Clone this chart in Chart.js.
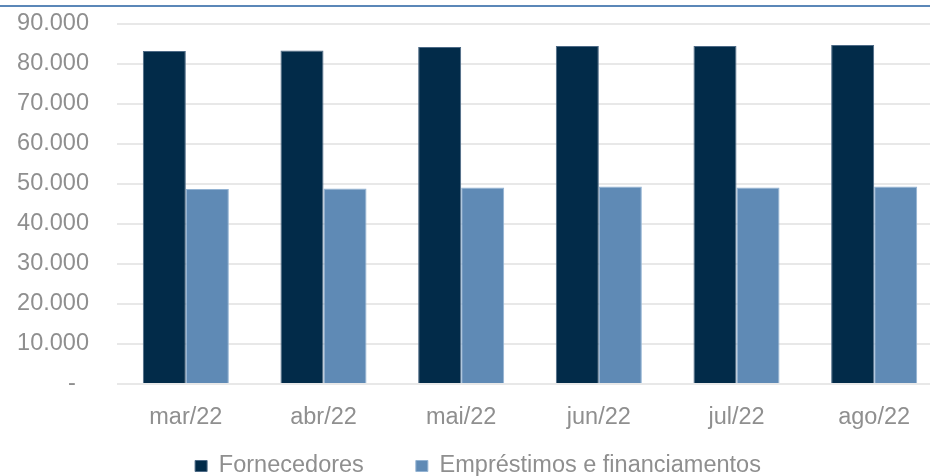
<!DOCTYPE html>
<html lang="pt-BR">
<head>
<meta charset="utf-8">
<title>Fornecedores x Empréstimos</title>
<script src="https://cdn.jsdelivr.net/npm/chart.js@4.4.1/dist/chart.umd.min.js"></script>
<style>
    html, body { margin: 0; padding: 0; background: #fff; overflow: hidden; }
    .top-rule { position: absolute; left: 0; top: 5px; width: 100%; height: 2px; background: #5B87B8; z-index: 2; }
    .chart-box { position: absolute; left: 0; top: 0; width: 943px; height: 476px; }
</style>
</head>
<body>
<div class="top-rule"></div>
<div class="chart-box"><canvas id="chartPassivo"></canvas></div>

<script>
// ── Dados ────────────────────────────────────────────────
var meses = ['mar/22', 'abr/22', 'mai/22', 'jun/22', 'jul/22', 'ago/22'];
var fornecedores = [83250, 83400, 84250, 84500, 84500, 84750];
var emprestimos = [48750, 48850, 49150, 49350, 49100, 49350];
var nomesSeries = ['Fornecedores', 'Empréstimos e financiamentos'];
var eixoY = { min: 0, max: 90000, passo: 10000 };

(function () {
    'use strict';

    var COLORS = {
        navy: '#022B49',
        navyEdge: '#4D6A86',
        steel: '#5F8AB5',
        steelEdge: '#93B3D3',
        text: '#8F8F8F',
        grid: '#E8E8E8'
    };

    var FONT = "'Liberation Sans', Arial, sans-serif";

    // separador de milhar com ponto; zero vira traço (formato contábil)
    function formatTick(v) {
        if (v === 0) return '-  ';
        return String(v).replace(/\B(?=(\d{3})+(?!\d))/g, '.');
    }

    // legenda: altura fixa e topo puxado para cima (o espaçamento
    // horizontal de 52px também empurraria o texto para baixo)
    var legendPos = {
        id: 'legendPos',
        beforeInit: function (chart) {
            var fit = chart.legend.fit;
            chart.legend.fit = function () {
                fit.call(this);
                this.height = 46;
            };
        },
        afterLayout: function (chart) {
            chart.legend.top -= 27.75;
        }
    };

    function createChart() {
        var ctx = document.getElementById('chartPassivo');
        if (!ctx) return;

        Chart.defaults.font.family = FONT;
        Chart.defaults.font.size = 23.5;
        Chart.defaults.color = COLORS.text;

        new Chart(ctx, {
            type: 'bar',
            data: {
                labels: meses,
                datasets: [{
                    label: nomesSeries[0],
                    data: fornecedores,
                    backgroundColor: COLORS.navy,
                    borderColor: COLORS.navyEdge,
                    borderWidth: 1
                }, {
                    label: nomesSeries[1],
                    data: emprestimos,
                    backgroundColor: COLORS.steel,
                    borderColor: COLORS.steelEdge,
                    borderWidth: 1
                }]
            },
            plugins: [legendPos],
            options: {
                responsive: true,
                maintainAspectRatio: false,
                animation: false,
                categoryPercentage: 0.625,
                barPercentage: 1.0,
                layout: { padding: { left: 13, top: 24, right: 0, bottom: 0 } },
                plugins: {
                    legend: {
                        position: 'bottom',
                        labels: {
                            boxWidth: 12,
                            boxHeight: 11,
                            padding: 52,
                            color: COLORS.text,
                            font: { size: 23.5 }
                        }
                    },
                    tooltip: { enabled: false }
                },
                scales: {
                    x: {
                        grid: { display: false, drawTicks: false },
                        border: { display: false },
                        ticks: { color: COLORS.text, padding: 19, font: { size: 23.5 } },
                        afterFit: function (scale) { scale.height = 46; }
                    },
                    y: {
                        min: eixoY.min,
                        max: eixoY.max,
                        grid: { color: COLORS.grid, lineWidth: 2, drawTicks: false },
                        border: { display: false },
                        ticks: {
                            stepSize: eixoY.passo,
                            color: COLORS.text,
                            padding: 28,
                            font: { size: 23.5 },
                            callback: function (val) { return formatTick(val); }
                        },
                        afterFit: function (scale) {
                            scale.width = 104;
                            scale.paddingTop = 14;
                            scale.paddingBottom = 14;
                        }
                    }
                }
            }
        });
    }

    document.addEventListener('DOMContentLoaded', createChart);
})();
</script>
</body>
</html>
